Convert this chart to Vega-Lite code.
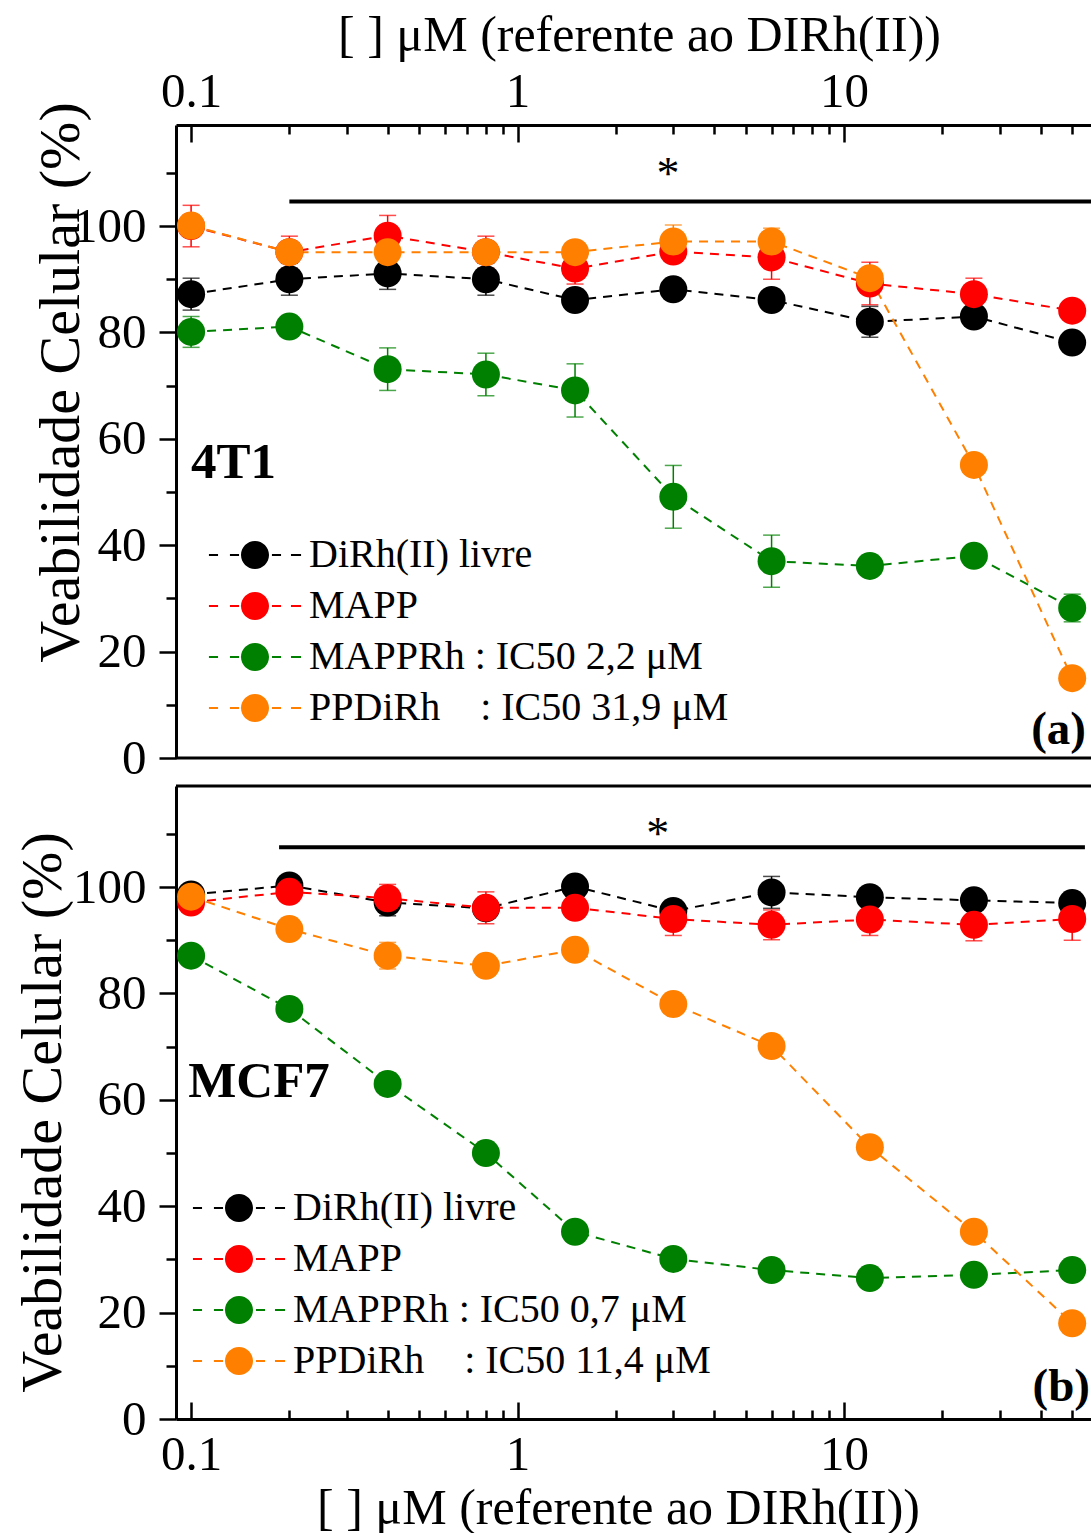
{
  "$schema": "https://vega.github.io/schema/vega-lite/v6.json",
  "background": "white",
  "padding": {"left": 14, "top": 10, "right": 0, "bottom": 0},
  "spacing": 1,
  "config": {
    "view": {"stroke": null},
    "font": "Liberation Serif",
    "axis": {
      "labelFont": "Liberation Serif", "titleFont": "Liberation Serif",
      "labelColor": "black", "titleColor": "black", "tickColor": "black",
      "domainColor": "black", "domainWidth": 3, "tickWidth": 2.5, "grid": false,
      "titleFontWeight": "normal", "labelFontSize": 49, "labelOverlap": false,
      "labelFlush": false, "labelBound": false
    }
  },
  "resolve": {"scale": {"color": "independent"}, "legend": {"color": "independent"}},
  "datasets": {
    "a": [
      {"c": 0.1, "v": 87.2, "e": 3.0, "s": "DiRh(II) livre"},
      {"c": 0.2, "v": 90.0, "e": 3.0, "s": "DiRh(II) livre"},
      {"c": 0.4, "v": 91.1, "e": 3.0, "s": "DiRh(II) livre"},
      {"c": 0.8, "v": 90.0, "e": 3.0, "s": "DiRh(II) livre"},
      {"c": 1.5, "v": 86.1, "e": null, "s": "DiRh(II) livre"},
      {"c": 3, "v": 88.1, "e": null, "s": "DiRh(II) livre"},
      {"c": 6, "v": 86.1, "e": null, "s": "DiRh(II) livre"},
      {"c": 12, "v": 82.0, "e": 2.9, "s": "DiRh(II) livre"},
      {"c": 25, "v": 83.0, "e": null, "s": "DiRh(II) livre"},
      {"c": 50, "v": 78.1, "e": null, "s": "DiRh(II) livre"},
      {"c": 0.1, "v": 100.0, "e": 3.9, "s": "MAPP"},
      {"c": 0.2, "v": 95.1, "e": 3.0, "s": "MAPP"},
      {"c": 0.4, "v": 98.2, "e": 3.8, "s": "MAPP"},
      {"c": 0.8, "v": 95.1, "e": 3.0, "s": "MAPP"},
      {"c": 1.5, "v": 92.0, "e": 2.9, "s": "MAPP"},
      {"c": 3, "v": 95.2, "e": null, "s": "MAPP"},
      {"c": 6, "v": 94.1, "e": 4.1, "s": "MAPP"},
      {"c": 12, "v": 89.2, "e": 4.0, "s": "MAPP"},
      {"c": 25, "v": 87.2, "e": 3.0, "s": "MAPP"},
      {"c": 50, "v": 84.1, "e": null, "s": "MAPP"},
      {"c": 0.1, "v": 80.1, "e": 2.9, "s": "MAPPRh"},
      {"c": 0.2, "v": 81.1, "e": null, "s": "MAPPRh"},
      {"c": 0.4, "v": 73.1, "e": 4.0, "s": "MAPPRh"},
      {"c": 0.8, "v": 72.1, "e": 4.0, "s": "MAPPRh"},
      {"c": 1.5, "v": 69.1, "e": 5.0, "s": "MAPPRh"},
      {"c": 3, "v": 49.1, "e": 5.9, "s": "MAPPRh"},
      {"c": 6, "v": 37.0, "e": 4.9, "s": "MAPPRh"},
      {"c": 12, "v": 36.1, "e": null, "s": "MAPPRh"},
      {"c": 25, "v": 38.0, "e": null, "s": "MAPPRh"},
      {"c": 50, "v": 28.2, "e": 2.6, "s": "MAPPRh"},
      {"c": 0.1, "v": 100.1, "e": null, "s": "PPDiRh"},
      {"c": 0.2, "v": 95.1, "e": null, "s": "PPDiRh"},
      {"c": 0.4, "v": 95.1, "e": null, "s": "PPDiRh"},
      {"c": 0.8, "v": 95.1, "e": null, "s": "PPDiRh"},
      {"c": 1.5, "v": 95.1, "e": null, "s": "PPDiRh"},
      {"c": 3, "v": 97.1, "e": 3.1, "s": "PPDiRh"},
      {"c": 6, "v": 97.1, "e": 2.5, "s": "PPDiRh"},
      {"c": 12, "v": 90.2, "e": null, "s": "PPDiRh"},
      {"c": 25, "v": 55.1, "e": null, "s": "PPDiRh"},
      {"c": 50, "v": 15.0, "e": null, "s": "PPDiRh"}
    ],
    "b": [
      {"c": 0.1, "v": 98.6, "e": null, "s": "DiRh(II) livre"},
      {"c": 0.2, "v": 100.3, "e": null, "s": "DiRh(II) livre"},
      {"c": 0.4, "v": 97.1, "e": 2.5, "s": "DiRh(II) livre"},
      {"c": 0.8, "v": 96.0, "e": null, "s": "DiRh(II) livre"},
      {"c": 1.5, "v": 100.1, "e": null, "s": "DiRh(II) livre"},
      {"c": 3, "v": 95.5, "e": null, "s": "DiRh(II) livre"},
      {"c": 6, "v": 99.0, "e": 3.0, "s": "DiRh(II) livre"},
      {"c": 12, "v": 98.1, "e": null, "s": "DiRh(II) livre"},
      {"c": 25, "v": 97.5, "e": null, "s": "DiRh(II) livre"},
      {"c": 50, "v": 97.0, "e": null, "s": "DiRh(II) livre"},
      {"c": 0.1, "v": 97.1, "e": null, "s": "MAPP"},
      {"c": 0.2, "v": 99.1, "e": null, "s": "MAPP"},
      {"c": 0.4, "v": 97.9, "e": 2.6, "s": "MAPP"},
      {"c": 0.8, "v": 96.1, "e": 3.0, "s": "MAPP"},
      {"c": 1.5, "v": 96.1, "e": null, "s": "MAPP"},
      {"c": 3, "v": 94.0, "e": 3.1, "s": "MAPP"},
      {"c": 6, "v": 92.9, "e": 2.8, "s": "MAPP"},
      {"c": 12, "v": 93.9, "e": 3.0, "s": "MAPP"},
      {"c": 25, "v": 92.9, "e": 3.0, "s": "MAPP"},
      {"c": 50, "v": 94.0, "e": 4.0, "s": "MAPP"},
      {"c": 0.1, "v": 87.1, "e": null, "s": "MAPPRh"},
      {"c": 0.2, "v": 77.1, "e": null, "s": "MAPPRh"},
      {"c": 0.4, "v": 63.0, "e": 2.0, "s": "MAPPRh"},
      {"c": 0.8, "v": 50.0, "e": null, "s": "MAPPRh"},
      {"c": 1.5, "v": 35.2, "e": null, "s": "MAPPRh"},
      {"c": 3, "v": 30.1, "e": null, "s": "MAPPRh"},
      {"c": 6, "v": 28.0, "e": null, "s": "MAPPRh"},
      {"c": 12, "v": 26.5, "e": null, "s": "MAPPRh"},
      {"c": 25, "v": 27.1, "e": null, "s": "MAPPRh"},
      {"c": 50, "v": 28.0, "e": null, "s": "MAPPRh"},
      {"c": 0.1, "v": 98.2, "e": null, "s": "PPDiRh"},
      {"c": 0.2, "v": 92.1, "e": null, "s": "PPDiRh"},
      {"c": 0.4, "v": 87.1, "e": 2.5, "s": "PPDiRh"},
      {"c": 0.8, "v": 85.2, "e": null, "s": "PPDiRh"},
      {"c": 1.5, "v": 88.2, "e": null, "s": "PPDiRh"},
      {"c": 3, "v": 78.0, "e": null, "s": "PPDiRh"},
      {"c": 6, "v": 70.1, "e": null, "s": "PPDiRh"},
      {"c": 12, "v": 51.1, "e": null, "s": "PPDiRh"},
      {"c": 25, "v": 35.2, "e": null, "s": "PPDiRh"},
      {"c": 50, "v": 18.0, "e": null, "s": "PPDiRh"}
    ]
  },
  "vconcat": [
    {
      "width": 916, "height": 633,
      "encoding": {
        "x": {"field": "c", "type": "quantitative", "scale": {"type": "log", "domain": [0.0899, 57.5], "nice": false},
          "axis": {
            "orient": "top",
            "values": [0.1, 0.2, 0.3, 0.4, 0.5, 0.6, 0.7, 0.8, 0.9, 1, 2, 3, 4, 5, 6, 7, 8, 9, 10, 20, 30, 40, 50],
            "format": "~g",
            "labelExpr": "datum.value == 0.1 || datum.value == 1 || datum.value == 10 ? datum.label : ''",
            "tickSize": {"condition": {"test": "datum.value == 0.1 || datum.value == 1 || datum.value == 10", "value": -17}, "value": -9},
            "labelPadding": 36,
            "labelBaseline": "alphabetic",
            "title": "[ ] μM (referente ao DIRh(II))",
            "titleFontSize": 50,
            "titleBaseline": "alphabetic",
            "titleX": 463,
            "titleY": -75
          }
        },
        "y": {"field": "v", "type": "quantitative", "scale": {"domain": [0, 119], "nice": false, "zero": false},
          "axis": {
            "values": [0, 10, 20, 30, 40, 50, 60, 70, 80, 90, 100, 110],
            "labelExpr": "datum.value % 20 == 0 ? datum.label : ''",
            "tickSize": {"condition": {"test": "datum.value % 20 == 0", "value": 17}, "value": 10},
            "labelPadding": 13,
            "title": "Veabilidade Celular (%)",
            "titleFontSize": 58,
            "titleBaseline": "alphabetic",
            "titleAngle": -90,
            "titleAlign": "center",
            "titleX": -98,
            "titleY": 257
          }
        },
        "color": {"field": "s", "type": "nominal", "scale": {"domain": ["DiRh(II) livre", "MAPP", "MAPPRh", "PPDiRh"], "range": ["#000000", "#ff0000", "#008000", "#ff8000"]},
          "legend": {
            "orient": "none", "legendX": 59, "legendY": 410, "title": null, "padding": 0,
            "symbolType": "M-1,0A1,1,0,1,0,1,0A1,1,0,1,0,-1,0Z M-3.29,-0.07H-2.64V0.07H-3.29Z M-1.79,-0.07H-1.14V0.07H-1.79Z M1.21,-0.07H1.86V0.07H1.21Z M2.57,-0.07H3.29V0.07H2.57Z",
            "symbolSize": 784, "symbolStrokeWidth": 0, "symbolOpacity": 1,
            "labelFont": "Liberation Serif", "labelFontSize": 40, "labelColor": "black", "labelLimit": 0,
            "labelOffset": 34, "rowPadding": 11,
            "labelExpr": "datum.label == 'MAPPRh' ? 'MAPPRh : IC50 2,2 μM' : datum.label == 'PPDiRh' ? 'PPDiRh\u00a0\u00a0\u00a0\u00a0: IC50 31,9 μM' : datum.label"
          }
        }
      },
      "layer": [
        {
          "data": {"name": "a"},
          "transform": [{"filter": "datum.e > 0"}],
          "mark": {"type": "errorbar", "thickness": 1.5, "ticks": {"size": 17, "thickness": 1.5}},
          "encoding": {"yError": {"field": "e"}}
        },
        {
          "data": {"name": "a"},
          "mark": {"type": "line", "strokeDash": [9, 7], "strokeWidth": 2}
        },
        {
          "data": {"name": "a"},
          "mark": {"type": "point", "filled": true, "shape": "circle", "size": 784, "opacity": 1, "strokeWidth": 0}
        },
        {
          "data": {"values": [{"c": 0.0899, "c2": 57.5, "v": 0}]},
          "mark": {"type": "rule", "strokeWidth": 3},
          "encoding": {"x2": {"field": "c2"}, "color": {"value": "black"}}
        },
        {
          "data": {"values": [{"c": 0.2, "c2": 57.5, "v": 104.6}]},
          "mark": {"type": "rule", "strokeWidth": 4, "clip": true},
          "encoding": {"x2": {"field": "c2"}, "color": {"value": "black"}}
        },
        {
          "data": {"values": [{"c": 2.89, "v": 107, "t": "*"}]},
          "mark": {"type": "text", "font": "Liberation Serif", "fontSize": 46, "align": "center", "baseline": "alphabetic"},
          "encoding": {"text": {"field": "t"}, "color": {"value": "black"}}
        },
        {
          "data": {"values": [{"c": 0.1, "v": 52.6, "t": "4T1"}]},
          "mark": {"type": "text", "font": "Liberation Serif", "fontSize": 51, "fontWeight": "bold", "align": "left", "baseline": "alphabetic"},
          "encoding": {"text": {"field": "t"}, "color": {"value": "black"}}
        },
        {
          "data": {"values": [{"c": 55.1, "v": 2.6, "t": "(a)"}]},
          "mark": {"type": "text", "font": "Liberation Serif", "fontSize": 47, "fontWeight": "bold", "align": "right", "baseline": "alphabetic"},
          "encoding": {"text": {"field": "t"}, "color": {"value": "black"}}
        }
      ]
    },
    {
      "width": 916, "height": 633,
      "encoding": {
        "x": {"field": "c", "type": "quantitative", "scale": {"type": "log", "domain": [0.0899, 57.5], "nice": false},
          "axis": {
            "orient": "bottom",
            "values": [0.1, 0.2, 0.3, 0.4, 0.5, 0.6, 0.7, 0.8, 0.9, 1, 2, 3, 4, 5, 6, 7, 8, 9, 10, 20, 30, 40, 50],
            "format": "~g",
            "labelExpr": "datum.value == 0.1 || datum.value == 1 || datum.value == 10 ? datum.label : ''",
            "tickSize": {"condition": {"test": "datum.value == 0.1 || datum.value == 1 || datum.value == 10", "value": -17}, "value": -9},
            "labelPadding": 67,
            "labelBaseline": "alphabetic",
            "title": "[ ] μM (referente ao DIRh(II))",
            "titleFontSize": 50,
            "titleBaseline": "alphabetic",
            "titleX": 442,
            "titleY": 104
          }
        },
        "y": {"field": "v", "type": "quantitative", "scale": {"domain": [0, 119], "nice": false, "zero": false},
          "axis": {
            "values": [0, 10, 20, 30, 40, 50, 60, 70, 80, 90, 100, 110],
            "labelExpr": "datum.value % 20 == 0 ? datum.label : ''",
            "tickSize": {"condition": {"test": "datum.value % 20 == 0", "value": 17}, "value": 10},
            "labelPadding": 13,
            "title": "Veabilidade Celular (%)",
            "titleFontSize": 58,
            "titleBaseline": "alphabetic",
            "titleAngle": -90,
            "titleAlign": "center",
            "titleX": -116,
            "titleY": 326
          }
        },
        "color": {"field": "s", "type": "nominal", "scale": {"domain": ["DiRh(II) livre", "MAPP", "MAPPRh", "PPDiRh"], "range": ["#000000", "#ff0000", "#008000", "#ff8000"]},
          "legend": {
            "orient": "none", "legendX": 43, "legendY": 402, "title": null, "padding": 0,
            "symbolType": "M-1,0A1,1,0,1,0,1,0A1,1,0,1,0,-1,0Z M-3.29,-0.07H-2.64V0.07H-3.29Z M-1.79,-0.07H-1.14V0.07H-1.79Z M1.21,-0.07H1.86V0.07H1.21Z M2.57,-0.07H3.29V0.07H2.57Z",
            "symbolSize": 784, "symbolStrokeWidth": 0, "symbolOpacity": 1,
            "labelFont": "Liberation Serif", "labelFontSize": 40, "labelColor": "black", "labelLimit": 0,
            "labelOffset": 34, "rowPadding": 11,
            "labelExpr": "datum.label == 'MAPPRh' ? 'MAPPRh : IC50 0,7 μM' : datum.label == 'PPDiRh' ? 'PPDiRh\u00a0\u00a0\u00a0\u00a0: IC50 11,4 μM' : datum.label"
          }
        }
      },
      "layer": [
        {
          "data": {"name": "b"},
          "transform": [{"filter": "datum.e > 0"}],
          "mark": {"type": "errorbar", "thickness": 1.5, "ticks": {"size": 17, "thickness": 1.5}},
          "encoding": {"yError": {"field": "e"}}
        },
        {
          "data": {"name": "b"},
          "mark": {"type": "line", "strokeDash": [9, 7], "strokeWidth": 2}
        },
        {
          "data": {"name": "b"},
          "mark": {"type": "point", "filled": true, "shape": "circle", "size": 784, "opacity": 1, "strokeWidth": 0}
        },
        {
          "data": {"values": [{"c": 0.0899, "c2": 57.5, "v": 119}]},
          "mark": {"type": "rule", "strokeWidth": 3},
          "encoding": {"x2": {"field": "c2"}, "color": {"value": "black"}}
        },
        {
          "data": {"values": [{"c": 0.186, "c2": 54.7, "v": 107.5}]},
          "mark": {"type": "rule", "strokeWidth": 4, "clip": true},
          "encoding": {"x2": {"field": "c2"}, "color": {"value": "black"}}
        },
        {
          "data": {"values": [{"c": 2.69, "v": 107.1, "t": "*"}]},
          "mark": {"type": "text", "font": "Liberation Serif", "fontSize": 46, "align": "center", "baseline": "alphabetic"},
          "encoding": {"text": {"field": "t"}, "color": {"value": "black"}}
        },
        {
          "data": {"values": [{"c": 0.098, "v": 60.5, "t": "MCF7"}]},
          "mark": {"type": "text", "font": "Liberation Serif", "fontSize": 51, "fontWeight": "bold", "align": "left", "baseline": "alphabetic"},
          "encoding": {"text": {"field": "t"}, "color": {"value": "black"}}
        },
        {
          "data": {"values": [{"c": 56.7, "v": 3.4, "t": "(b)"}]},
          "mark": {"type": "text", "font": "Liberation Serif", "fontSize": 47, "fontWeight": "bold", "align": "right", "baseline": "alphabetic"},
          "encoding": {"text": {"field": "t"}, "color": {"value": "black"}}
        }
      ]
    }
  ]
}
